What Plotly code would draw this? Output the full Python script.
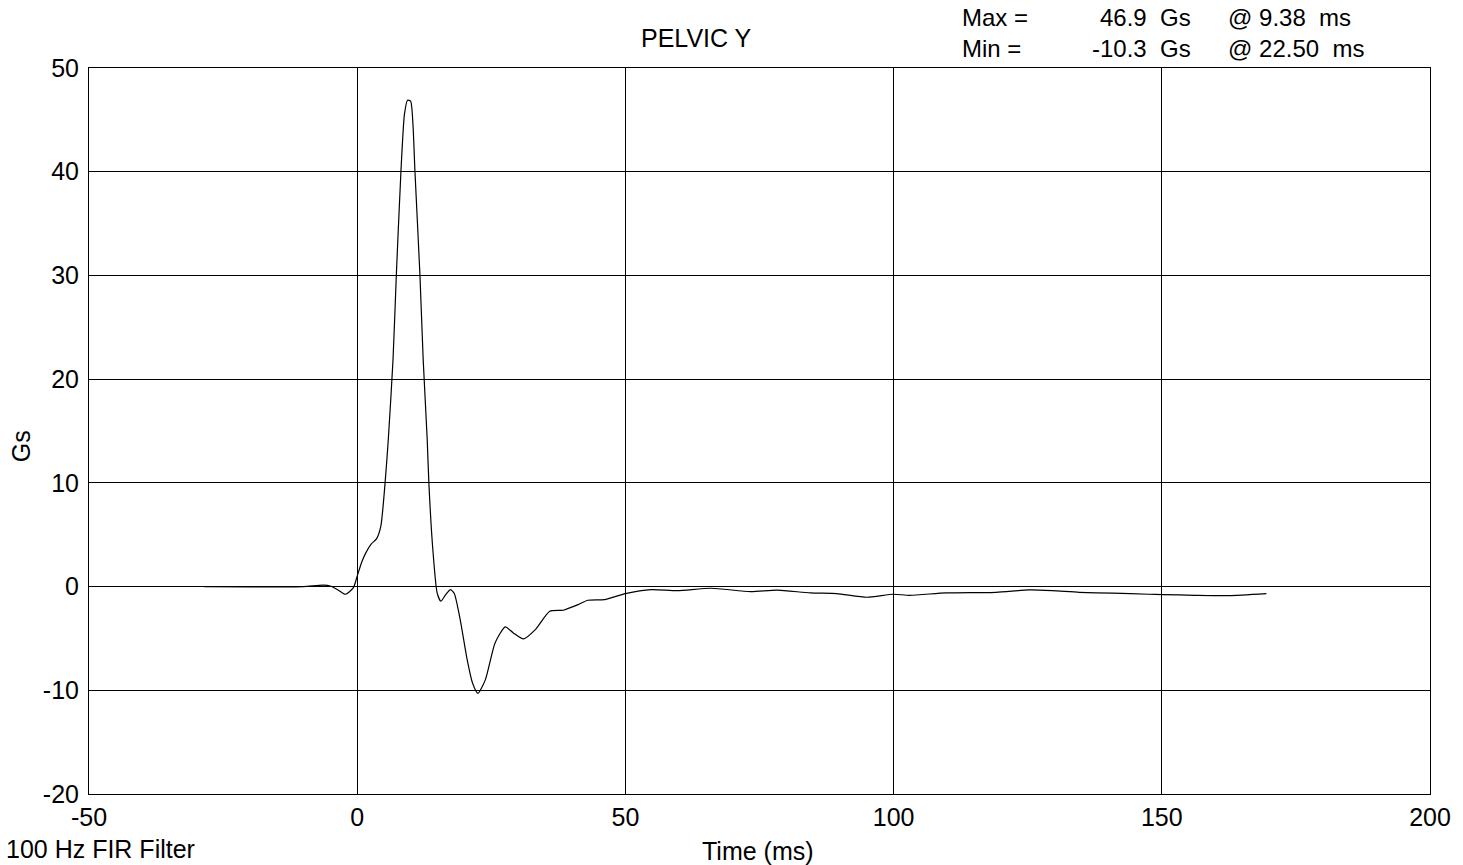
import plotly.graph_objects as go

# Time (ms) and acceleration (Gs)
time_ms = [-28.5, -20, -10, -6.4, -4.9, -3.5, -2.2, -0.74, 0, 0.8, 1.6, 2.6, 3.6, 4.4, 5.2, 5.8,
           6.68, 7.3, 8.16, 8.8, 9.38, 9.96, 10.4, 10.76, 11.69, 12.3, 13.05, 13.36, 14.1,
           14.9, 15.6, 16.5, 17.4, 18.1, 19.2, 20.5, 21.5, 22.5, 23.9, 25.7, 27.6, 29.1,
           31.0, 33.2, 35.9, 38.4, 41.2, 43.0, 46.1, 50.0, 54.8, 59.7, 65.9, 73.3, 78.3,
           84.5, 89.4, 95.0, 99.9, 103.0, 109.8, 119.1, 125.3, 129.6, 134.6, 140.8, 147.6,
           150.1, 156.2, 162.4, 169.5]
accel_gs = [0.0, -0.02, 0.0, 0.13, 0.03, -0.35, -0.74, -0.13, 1.0, 2.3, 3.25, 4.1, 4.6, 5.8, 10.0, 14.2,
            21.9, 30.1, 40.1, 45.5, 46.9, 46.8, 44.5, 40.1, 30.1, 21.9, 14.2, 10.0, 3.57,
            -0.6, -1.41, -0.77, -0.29, -0.67, -3.18, -7.04, -9.3, -10.3, -8.97, -5.43, -3.89, -4.47,
            -5.05, -4.15, -2.38, -2.28, -1.74, -1.32, -1.25, -0.675, -0.29, -0.39, -0.16, -0.48, -0.35,
            -0.61, -0.675, -1.03, -0.74, -0.84, -0.61, -0.55, -0.32, -0.39, -0.55, -0.64, -0.74,
            -0.77, -0.84, -0.87, -0.675]

x_ticks = [-50, 0, 50, 100, 150, 200]
x_tick_text = ["-50", "0", "50", "100", "150", "200"]
y_ticks = [-20, -10, 0, 10, 20, 30, 40, 50]
y_tick_text = ["-20", "-10", "0", "10", "20", "30", "40", "50"]

title_text = "PELVIC Y"
stat_labels = ["Max =", "Min ="]
stat_values = ["46.9\u00a0\u00a0Gs", "-10.3\u00a0\u00a0Gs"]
stat_times = ["@ 9.38\u00a0\u00a0ms", "@ 22.50\u00a0\u00a0ms"]

FONT = "Liberation Sans, Arial, sans-serif"
FS = 25
FS_STAT = 24

fig = go.Figure()
fig.add_trace(go.Scatter(x=time_ms, y=accel_gs, mode="lines",
                         line=dict(color="black", width=1.2, shape="spline", smoothing=0.6),
                         showlegend=False, hoverinfo="x+y"))

axis_common = dict(showgrid=True, gridcolor="black", gridwidth=1, zeroline=True,
                   zerolinecolor="black", zerolinewidth=1, showline=True, linecolor="black",
                   linewidth=1, mirror=True, ticks="",
                   tickfont=dict(family=FONT, size=FS, color="black"))

fig.update_xaxes(range=[-50, 200], tickvals=x_ticks, ticktext=x_tick_text,
                 ticklabelstandoff=1, **axis_common)
fig.update_yaxes(range=[-20, 50], tickvals=y_ticks, ticktext=y_tick_text,
                 ticklabelstandoff=4, **axis_common)

L, R, T, B = 89, 27, 68, 71
W, H = 1463, 865
pw, ph = W - L - R, H - T - B

def px(xp):
    return (xp - L) / pw

def py(yp):
    return (H - B - yp) / ph

anns = [
    dict(text=title_text, x=px(699), y=py(38), xanchor="center", yanchor="middle"),
    dict(text="Gs", x=px(21), y=py(446), xanchor="center", yanchor="middle", textangle=-90),
    dict(text="Time (ms)", x=px(761), y=py(851), xanchor="center", yanchor="middle"),
    dict(text="100 Hz FIR Filter", x=px(4), y=py(849), xanchor="left", yanchor="middle"),
]
for a in anns:
    fig.add_annotation(xref="paper", yref="paper", showarrow=False,
                       font=dict(family=FONT, size=FS, color="black"), **a)

stat_cols = [
    dict(text="<br>".join(stat_labels), x=px(964), xanchor="left", align="left"),
    dict(text="<br>".join(stat_values), x=px(1198), xanchor="right", align="right"),
    dict(text="<br>".join(stat_times), x=px(1231), xanchor="left", align="left"),
]
for a in stat_cols:
    fig.add_annotation(xref="paper", yref="paper", showarrow=False, y=py(33), yanchor="middle",
                       font=dict(family=FONT, size=FS_STAT, color="black"), **a)

fig.update_layout(width=W, height=H, margin=dict(l=L, r=R, t=T, b=B),
                  plot_bgcolor="white", paper_bgcolor="white",
                  font=dict(family=FONT, size=FS, color="black"))

fig.write_html("out.html", config={"displayModeBar": False},
               post_script="document.body.style.margin='0';document.body.style.overflow='hidden';")
